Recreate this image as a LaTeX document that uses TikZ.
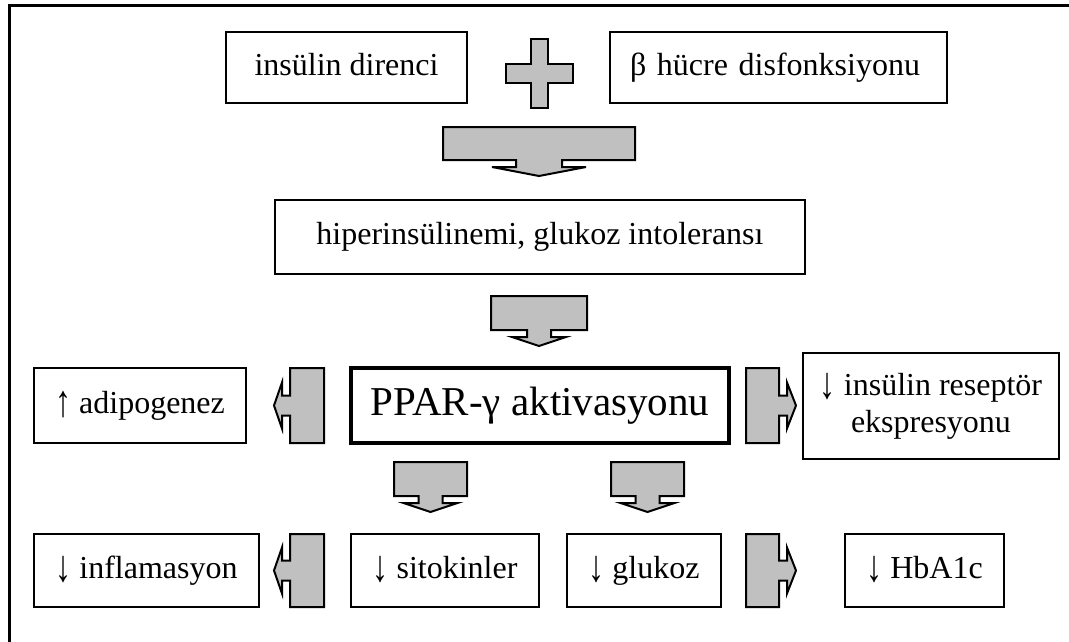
\documentclass[tikz,border=0pt]{standalone}
\usepackage{fontspec}
\setmainfont{Liberation Serif}
\definecolor{blockgray}{RGB}{192,192,192}
\newcommand{\dn}{\raisebox{-3pt}{\scalebox{1}[1.4]{↓}}}
\newcommand{\upp}{\raisebox{-3pt}{\scalebox{1}[1.4]{↑}}}
\tikzset{
  box/.style={draw, line width=2pt, inner sep=0pt, minimum height=73pt, align=center,
    font=\fontsize{32}{37}\selectfont},
  onerow/.style={text height=22pt, text depth=7pt},
  blockarrow/.style={draw, line width=2pt, fill=blockgray, line join=miter},
}
% block arrows: centre x, body top, body bottom, half width, stem half, head half
\newcommand{\downblock}[6]{%
  \draw[blockarrow] (#1-#4,#2) -- (#1+#4,#2) -- (#1+#4,#3) -- (#1+#5,#3) -- (#1+#5,#3+7)
    -- (#1+#6,#3+7) -- (#1,#3+16) -- (#1-#6,#3+7) -- (#1-#5,#3+7) -- (#1-#5,#3)
    -- (#1-#4,#3) -- cycle;}
% body left, body right, centre y, half height
\newcommand{\leftblock}[4]{%
  \draw[blockarrow] (#2,#3-#4) -- (#2,#3+#4) -- (#1,#3+#4) -- (#1,#3+10) -- (#1-8,#3+10)
    -- (#1-8,#3+23) -- (#1-16,#3) -- (#1-8,#3-23) -- (#1-8,#3-10) -- (#1,#3-10)
    -- (#1,#3-#4) -- cycle;}
\newcommand{\rightblock}[4]{%
  \draw[blockarrow] (#1,#3-#4) -- (#1,#3+#4) -- (#2,#3+#4) -- (#2,#3+10) -- (#2+8,#3+10)
    -- (#2+8,#3+23) -- (#2+17,#3) -- (#2+8,#3-23) -- (#2+8,#3-10) -- (#2,#3-10)
    -- (#2,#3-#4) -- cycle;}

\begin{document}
\begin{tikzpicture}[x=1pt,y=-1pt]
    \useasboundingbox (0,0) rectangle (1069,641);
    \clip (0,0) rectangle (1069,641);
    \draw[line width=3pt] (9,5) rectangle (1100,690);

    % top row
    \node[box, onerow, minimum width=241pt, minimum height=71pt] (ins) at (346.5,67.5) {insülin direnci};
    \node[box, onerow, minimum height=71pt, text width=297pt, inner xsep=20pt, align=left] (beta) at (778.5,67.5) {β hücre disfonksiyonu};
    \draw[blockarrow] (531,39) -- (548,39) -- (548,64) -- (573,64) -- (573,83) -- (548,83)
        -- (548,108) -- (531,108) -- (531,83) -- (506,83) -- (506,64) -- (531,64) -- cycle;
    \downblock{539}{127}{160}{96}{23}{47}

    \node[box, onerow, minimum width=530pt, minimum height=74pt] (hiper) at (540,237) {hiperinsülinemi, glukoz intoleransı};
    \downblock{539}{296}{330}{48}{12}{27}

    % middle row
    \node[box, line width=3.5pt, minimum width=378pt, minimum height=75pt,
        font=\fontsize{41}{48}\selectfont] (ppar) at (540,405.5) {PPAR-γ aktivasyonu};
    \node[box, onerow, minimum width=212pt, minimum height=75pt] (adipo) at (140,405.5) {\upp\ adipogenez};
    \node[box, minimum width=256pt, minimum height=106pt] (resept) at (931,406) {\dn\ insülin reseptör\\ekspresyonu};
    \leftblock{290}{324}{405.5}{37.5}
    \rightblock{746}{779}{405.5}{37.5}
    \downblock{430.5}{462}{496}{36.5}{12}{27}
    \downblock{647.5}{462}{496}{36.5}{12}{27}

    % bottom row
    \node[box, onerow, minimum width=225pt] (inflam) at (146.5,570.5) {\dn\ inflamasyon};
    \node[box, onerow, minimum width=188pt] (sitok) at (445,570.5) {\dn\ sitokinler};
    \node[box, onerow, minimum width=154pt] (glukoz) at (644,570.5) {\dn\ glukoz};
    \node[box, onerow, minimum width=159pt] (hba) at (924.5,570.5) {\dn\ HbA1c};
    \leftblock{290}{324}{570.5}{36.5}
    \rightblock{746}{779}{570.5}{36.5}
\end{tikzpicture}
\end{document}
